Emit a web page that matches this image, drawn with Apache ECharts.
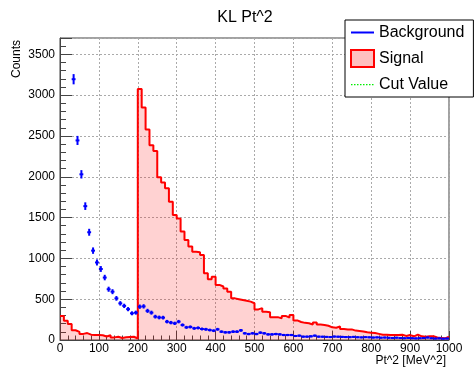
<!DOCTYPE html>
<html><head><meta charset="utf-8">
<script src="https://cdn.jsdelivr.net/npm/echarts@6/dist/echarts.min.js"></script>
<style>html,body{margin:0;padding:0;background:#fff}#c{width:475px;height:369px}</style>
</head><body><div id="c"></div>
<script>
// Histogram binning (x axis: Pt^2 [MeV^2])
const binLow = 0;
const binWidth = 10;
const xMin = 0, xMax = 1000, xInterval = 100;
const yMin = 0, yMax = 3700, yInterval = 500;

// Signal histogram counts per bin (100 bins of width 10)
const signalCounts = [
  294, 237, 196, 120, 100, 75, 85, 65, 60, 60,
  58, 42, 58, 32, 40, 24, 33, 38, 40, 18,
  3075, 2850, 2580, 2385, 2315, 1995, 1930, 1860, 1695, 1530,
  1490, 1330, 1225, 1145, 1080, 1075, 1040, 817, 745, 776,
  675, 655, 630, 590, 510, 500, 490, 480, 470, 450,
  375, 390, 345, 340, 280, 280, 265, 295, 275, 305,
  240, 220, 210, 205, 190, 215, 190, 185, 175, 155,
  150, 165, 135, 130, 130, 115, 110, 105, 95, 90,
  85, 75, 65, 65, 60, 60, 60, 65, 50, 60,
  45, 65, 45, 40, 45, 45, 30, 25, 20, 40
];

// Background counts per bin (first bins are off scale, not drawn)
const backgroundCounts = [
  null, null, null, 3195, 2445, 2030, 1640, 1320, 1095, 950,
  870, 765, 622, 592, 510, 449, 418, 378, 327, 335,
  408, 412, 357, 335, 286, 276, 274, 225, 213, 204,
  225, 184, 155, 160, 143, 148, 135, 131, 122, 114,
  131, 102, 94, 94, 102, 102, 118, 82, 73, 82,
  73, 90, 82, 69, 69, 73, 69, 61, 61, 61,
  49, 53, 41, 41, 45, 53, 41, 40, 38, 36,
  42, 40, 38, 36, 35, 38, 34, 32, 35, 33,
  30, 32, 28, 30, 27, 25, 28, 24, 22, 25,
  22, 20, 22, 24, 30, 22, 18, 20, 16, 18
];

const titleText = 'KL Pt^2';
const xTitle = 'Pt^2 [MeV^2]';
const yTitle = 'Counts';
const legendNames = ['Background', 'Signal', 'Cut Value'];

const FONT = '"Liberation Sans", Arial, Helvetica, sans-serif';

// Build series data from arrays
const signalData = signalCounts.map((v, i) => [binLow + i * binWidth, v]);
signalData.push([binLow + signalCounts.length * binWidth, signalCounts[signalCounts.length - 1]]);
const bgData = [];
backgroundCounts.forEach((v, i) => {
  if (v !== null) bgData.push([binLow + (i + 0.5) * binWidth, v]);
});

let dotted = 'path://M0,0';
for (let x = 0; x < 23; x += 3) dotted += 'M' + x + ',8L' + (x + 1.5) + ',8L' + (x + 1.5) + ',9.2L' + x + ',9.2Z';
dotted += 'M23,17';

const plain = v => String(v);

const chart = echarts.init(document.getElementById('c'), null, {renderer: 'canvas'});
chart.setOption({
  animation: false,
  backgroundColor: '#fff',
  textStyle: {fontFamily: FONT},
  title: {
    text: titleText, left: 240, top: 5, textAlign: 'center',
    textStyle: {fontSize: 16, fontWeight: 'normal', color: '#000', fontFamily: FONT}
  },
  legend: {
    orient: 'vertical', left: 345, top: 20,
    padding: [4, 9, 4, 5], itemGap: 8, itemWidth: 23, itemHeight: 17, itemTextGap: 5,
    backgroundColor: '#fff', borderColor: '#000', borderWidth: 1,
    selectedMode: false,
    textStyle: {fontSize: 16, color: '#000', fontFamily: FONT},
    data: [
      {name: legendNames[0], icon: 'path://M0,0M0,7.5L23,7.5L23,9.5L0,9.5ZM23,17', itemStyle: {color: '#0000ff', borderWidth: 0}},
      {name: legendNames[1], icon: 'rect', itemStyle: {color: 'rgba(255,0,0,0.25)', borderColor: '#ff0000', borderWidth: 2}},
      {name: legendNames[2], icon: dotted, itemStyle: {color: '#00ee00', borderWidth: 0}}
    ]
  },
  grid: {left: 60, top: 38, width: 389, height: 302, show: true, borderColor: '#444', borderWidth: 1, backgroundColor: 'transparent'},
  xAxis: {
    type: 'value', min: xMin, max: xMax, interval: xInterval,
    name: xTitle, nameLocation: 'end', nameGap: -3, nameMoveOverlap: false,
    nameTextStyle: {fontSize: 12, color: '#000', align: 'right', verticalAlign: 'top', padding: [15, 0, 0, 0], fontFamily: FONT},
    axisLine: {show: true, onZero: false, lineStyle: {color: '#444', width: 1}},
    axisTick: {show: true, inside: true, length: 9, lineStyle: {color: '#444'}},
    minorTick: {show: true, splitNumber: 5, length: 4.5, lineStyle: {color: '#444'}},
    axisLabel: {fontSize: 12, color: '#000', margin: 3, fontFamily: FONT, formatter: plain},
    splitLine: {show: true, lineStyle: {color: '#aaa', type: [2, 2], width: 1}}
  },
  yAxis: {
    type: 'value', min: yMin, max: yMax, interval: yInterval,
    name: yTitle, nameLocation: 'end', nameRotate: 90, nameGap: -40, nameMoveOverlap: false,
    nameTextStyle: {fontSize: 12, color: '#000', align: 'left', verticalAlign: 'bottom', padding: [0, 0, 37, 0], fontFamily: FONT},
    axisLine: {show: true, onZero: false, lineStyle: {color: '#444', width: 1}},
    axisTick: {show: true, inside: true, length: 12, lineStyle: {color: '#444'}},
    minorTick: {show: true, splitNumber: 5, length: 6, lineStyle: {color: '#444'}},
    axisLabel: {fontSize: 12, color: '#000', margin: 5, showMaxLabel: false, fontFamily: FONT, formatter: plain},
    splitLine: {show: true, lineStyle: {color: '#aaa', type: [2, 2], width: 1}}
  },
  series: [
    {
      name: legendNames[1], type: 'line', step: 'end', data: signalData,
      symbol: 'none', z: 2,
      lineStyle: {color: '#ff0000', width: 2},
      itemStyle: {color: '#ff0000'},
      areaStyle: {color: 'rgba(255,0,0,0.25)', origin: 'start'}
    },
    {
      name: legendNames[0], type: 'custom', data: bgData, z: 3,
      itemStyle: {color: '#0000ff'},
      renderItem: function (params, api) {
        const x = api.value(0), y = api.value(1);
        const l = api.coord([x - binWidth / 2, y]);
        const r = api.coord([x + binWidth / 2, y]);
        const e = Math.sqrt(y);
        const t = api.coord([x, y + e]);
        const b = api.coord([x, y - e]);
        return {
          type: 'group',
          children: [
            {type: 'line', shape: {x1: l[0], y1: l[1], x2: r[0], y2: r[1]}, style: {stroke: '#0000ff', lineWidth: 2}},
            {type: 'line', shape: {x1: t[0], y1: t[1] - 0.5, x2: b[0], y2: b[1] + 0.5}, style: {stroke: '#0000ff', lineWidth: 2}}
          ]
        };
      }
    },
    {
      name: legendNames[2], type: 'line', data: [], symbol: 'none',
      lineStyle: {color: '#00ee00', type: 'dotted', width: 1},
      itemStyle: {color: '#00ee00'}
    }
  ]
});
</script>
</body></html>
